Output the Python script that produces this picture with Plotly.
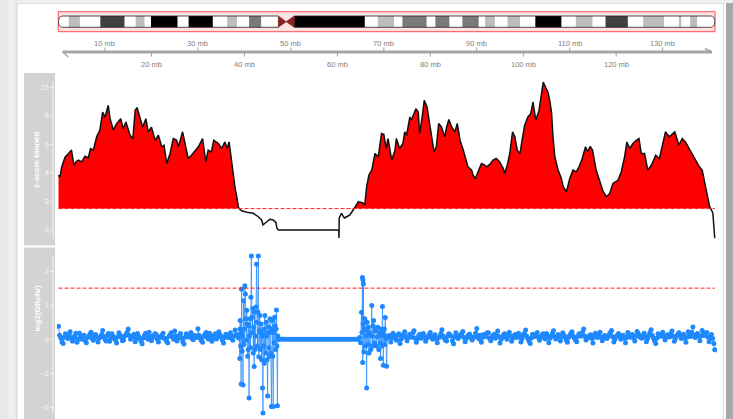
import numpy as np
import plotly.graph_objects as go

W, H = 733, 419

# ---- chromosome 9 cytobands (Mb) ----
BAND_START = [0.0, 2.2, 4.6, 9.0, 14.2, 16.6, 18.5, 19.9, 25.6, 28.0,
              33.2, 36.3, 38.4, 41.0, 43.6, 47.3, 49.0, 50.7, 65.9, 68.7,
              72.2, 74.0, 79.2, 81.1, 84.1, 86.9, 90.4, 91.8, 93.9, 96.6,
              99.3, 102.6, 108.2, 111.3, 114.9, 117.7, 122.5, 125.8, 130.3, 133.5,
              134.0, 135.9, 137.4]
CHROM_LEN = 141.213
BAND_END = BAND_START[1:] + [CHROM_LEN]
BAND_STAIN = ["gneg", "gpos25", "gneg", "gpos75", "gneg", "gpos25", "gneg", "gpos100", "gneg", "gpos100",
              "gneg", "gpos25", "gneg", "gpos50", "gneg", "acen", "acen", "gvar", "gneg", "gpos25",
              "gneg", "gpos50", "gneg", "gpos50", "gneg", "gpos50", "gneg", "gpos25", "gneg", "gpos25",
              "gneg", "gpos100", "gneg", "gpos25", "gneg", "gpos75", "gneg", "gpos25", "gneg", "gpos25",
              "gneg", "gpos25", "gneg"]
STAIN_COLOR = {"gneg": "#FFFFFF", "gpos25": "#BDBDBD", "gpos50": "#7A7A7A",
               "gpos75": "#404040", "gpos100": "#000000", "gvar": "#000000"}

AXIS_TICKS_MB = [10, 20, 30, 40, 50, 60, 70, 80, 90, 100, 110, 120, 130]

# ---- z-score binned track ----
THRESHOLD = 1.5
Z_POS = [0.0, 0.3, 0.7, 1.4, 2.0, 2.5, 2.8, 3.3, 3.8, 4.3, 5.0, 5.7, 6.4, 6.9, 7.5, 8.2, 8.9, 9.5,
         10.0, 10.7, 11.1, 11.8, 12.5, 13.4, 13.9, 14.5, 15.4, 16.0, 16.5, 16.9, 17.4, 18.1, 18.8, 19.3,
         20.0, 20.8, 21.5, 22.2, 22.7, 23.3, 24.0, 24.7, 25.4, 25.8, 26.7, 27.2, 27.9, 28.6, 29.4,
         30.1, 31.0, 31.7, 32.2, 32.9, 33.4, 34.4, 35.1, 35.8, 36.3, 36.7, 36.9, 37.5, 38.0, 38.3, 38.7,
         39.0, 39.4, 40.5, 41.2, 41.9, 43.0, 43.7, 44.0, 44.4, 44.8, 45.5, 46.2, 46.8, 47.0, 47.3,
         60.3, 60.35, 60.4, 60.9, 61.5, 62.0, 62.7, 63.4, 63.8, 64.5, 65.0, 65.5, 65.9, 66.3, 66.8,
         67.4, 68.1, 68.8, 69.5, 70.0, 70.5, 70.9, 71.7, 72.4, 72.7, 73.4, 74.1, 74.5, 74.9, 75.6,
         75.9, 76.3, 76.9, 77.4, 77.7, 78.3, 78.7, 79.3, 79.7, 80.3, 80.8, 81.3, 81.8, 82.4, 83.1,
         83.5, 84.0, 84.6, 85.3, 85.8, 86.4, 87.1, 87.4, 88.1, 88.9, 89.2, 89.7, 90.3, 91.0, 91.7,
         92.1, 92.8, 93.5, 94.2, 94.9, 95.7, 96.0, 96.6, 97.1, 97.7, 98.2, 98.7, 99.3, 99.8, 100.3,
         101.0, 101.6, 102.1, 102.7, 103.4, 104.3, 104.8, 105.3, 105.7, 106.1, 106.4, 106.8, 107.5,
         108.2, 108.6, 109.3, 110.0, 110.7, 111.4, 112.0, 112.7, 113.4, 113.9, 114.4, 114.9, 115.7,
         116.5, 117.2, 117.9, 118.6, 119.3, 120.4, 121.1, 121.8, 122.3, 122.9, 123.6, 124.3, 124.9,
         125.4, 126.1, 126.8, 127.6, 128.5, 129.3, 130.1, 130.6, 131.4, 131.9, 132.6, 133.5, 134.2,
         134.9, 135.7, 136.4, 137.2, 137.9, 138.5, 139.0, 139.5, 140.1, 140.5, 140.8, 141.2]
Z_VAL = [3.85, 3.7, 4.43, 5.1, 5.3, 5.48, 5.6, 4.55, 4.8, 4.9, 4.78, 5.17, 5.07, 5.71, 5.6, 6.53, 7.0, 8.27,
         7.9, 8.74, 7.8, 7.0, 7.46, 7.8, 7.1, 7.57, 6.64, 6.4, 8.39, 8.58, 8.04, 7.22, 7.8, 6.88,
         7.2, 6.29, 6.64, 5.83, 5.94, 4.66, 5.36, 6.41, 6.3, 5.83, 6.88, 6.17, 5.01, 5.24, 5.6,
         5.83, 6.41, 4.78, 5.6, 5.48, 6.29, 6.06, 5.71, 6.17, 5.71, 6.17, 5.71, 3.96, 2.92, 2.45, 1.6,
         1.45, 1.35, 1.24, 1.2, 1.17, 0.93, 0.70, 0.35, 0.5, 0.58, 0.75, 0.70, 0.51, 0.12, 0.0,
         0.0, -0.56, 0.84, 1.17, 0.84, 0.93, 1.05, 1.40, 1.63, 1.98, 1.95, 1.90, 1.75, 3.03, 3.85,
         4.2, 5.36, 5.13, 6.76, 6.7, 5.71, 6.41, 4.9, 5.59, 6.41, 5.71, 6.06, 6.88, 6.64, 7.92,
         7.69, 8.04, 8.5, 8.27, 6.76, 8.04, 9.09, 8.62, 7.69, 6.53, 5.48, 5.83, 7.46, 7.22, 6.53,
         7.2, 7.74, 7.22, 6.88, 7.46, 6.29, 5.59, 5.24, 4.43, 4.2, 3.85, 3.61, 4.08, 4.66, 4.55,
         4.43, 4.6, 4.9, 5.01, 4.78, 4.31, 3.96, 4.6, 5.36, 6.88, 6.53, 5.59, 5.36, 6.41, 7.34,
         7.92, 8.15, 8.97, 7.69, 8.4, 10.37, 10.0, 9.67, 9.09, 8.2, 6.53, 5.13, 4.2,
         3.61, 3.03, 2.68, 3.61, 4.2, 4.08, 4.43, 5.01, 5.83, 5.48, 5.86, 5.6, 4.2,
         3.38, 2.68, 2.33, 2.56, 3.26, 3.5, 4.08, 5.13, 6.17, 5.71, 6.06, 6.29, 6.41,
         5.36, 5.36, 4.2, 4.55, 5.24, 5.01, 6.06, 6.88, 6.53, 6.65, 6.88, 5.94, 6.41,
         6.17, 5.71, 5.36, 4.9, 4.43, 4.2, 3.38, 2.56, 1.63, 1.4, 1.17, -0.58]

# ---- log2(GRchr) track ----
GR_STEP = 0.25
GR_P_START = 0.0
GR_P_VAL = [0.38, 0.12, 0.04, -0.08, -0.12, 0.06, 0.16, 0.09, 0.02, 0.14, 0.22, 0.05, -0.06, 0.03, 0.10, 0.18, -0.09, 0.01, 0.18, 0.07,
            0.00, 0.09, 0.12, -0.04, -0.10, 0.05, 0.08, 0.15, 0.21, 0.02, -0.03, 0.11, 0.14, 0.06, -0.08, 0.04, 0.06, 0.13, 0.26, 0.08,
            0.01, -0.05, 0.11, 0.17, -0.06, 0.03, 0.16, 0.09, 0.04, -0.02, -0.11, 0.07, 0.19, 0.12, 0.07, -0.04, -0.02, 0.10, 0.13, 0.20,
            0.30, 0.11, 0.00, 0.06, 0.09, 0.15, -0.07, 0.02, 0.17, 0.08, 0.03, -0.05, -0.13, 0.04, 0.12, 0.18, 0.06, 0.00, 0.21, 0.09,
            -0.04, 0.05, 0.10, 0.16, 0.15, 0.01, -0.08, 0.07, 0.05, 0.12, 0.18, 0.03, 0.02, -0.06, -0.10, 0.08, 0.13, 0.19, 0.08, 0.00,
            0.24, 0.10, -0.05, 0.04, 0.11, 0.17, 0.04, -0.07, -0.14, 0.06, 0.16, 0.09, 0.07, 0.14, 0.20, 0.02, -0.01, 0.11, 0.09, 0.05,
            0.31, 0.12, 0.03, -0.04, -0.09, 0.08, 0.14, 0.20, 0.06, 0.01, 0.18, 0.10, -0.06, 0.04, 0.12, 0.16, 0.01, 0.07, 0.22, 0.13,
            0.08, -0.02, -0.11, 0.05, 0.15, 0.09, 0.05, 0.12, 0.19, 0.03, -0.03, 0.10, 0.27, 0.14, 0.10, 0.04]
GR_PERI1_POS = [38.9, 39.0, 39.05, 39.1, 39.2, 39.3, 39.35, 39.4, 39.5, 39.6, 39.7, 39.8, 39.9, 40.0,
                40.1, 40.2, 40.3, 40.4, 40.5, 40.6, 40.7, 40.8, 40.9, 41.0, 41.1, 41.2, 41.3, 41.4,
                41.5, 41.6, 41.7, 41.8, 41.9, 42.0, 42.1, 42.2, 42.3, 42.4, 42.5, 42.6, 42.7, 42.8,
                42.9, 43.0, 43.1, 43.2, 43.3, 43.4, 43.5, 43.6, 43.7, 43.8, 43.9, 44.0, 44.1, 44.2,
                44.3, 44.4, 44.5, 44.6, 44.7, 44.8, 44.9, 45.0, 45.1, 45.2, 45.3, 45.4, 45.5, 45.6,
                45.7, 45.8, 45.9, 46.0, 46.1, 46.2, 46.3, 46.4, 46.5, 46.6, 46.7, 46.8, 46.9, 47.0,
                47.1, 47.2, 47.3]
GR_PERI1_VAL = [0.15, -0.56, 0.30, 0.55, -0.20, -1.31, 0.20, 1.47, -0.35, 0.10, -1.34, 1.13, -0.15, 0.30,
                1.57, 1.33, 0.60, -0.03, 0.85, 0.45, -0.50, -0.30, 0.40, -1.72, 0.10, 0.60, -0.25, 1.23,
                2.44, 0.65, 0.20, 0.90, -0.40, 0.35, -0.80, 0.79, -0.30, 0.10, 0.95, 2.20, 0.50, -0.20,
                0.80, 2.44, -0.51, 0.25, 0.70, -0.30, 0.20, 0.45, -0.60, 0.10, -1.43, -2.16, -0.20, 0.30,
                -0.70, 0.70, 0.15, -0.40, 0.50, 0.10, -0.60, -1.66, 0.20, 0.36, -0.25, -0.50, 0.60, 0.20,
                -0.40, -1.97, 0.30, 0.55, -0.50, -1.97, 0.20, -0.10, 0.65, 0.40, -0.30, 0.30, 0.86, -0.20,
                -1.95, 0.10, 0.00]
GR_FLAT_START, GR_FLAT_STEP = 47.5, 0.5
GR_FLAT_VAL = [0.0, 0.0, 0.0, 0.0, 0.0, 0.0, 0.0, 0.0, 0.0, 0.0, 0.0, 0.0, 0.0, 0.0, 0.0, 0.0, 0.0, 0.0,
               0.0, 0.0, 0.0, 0.0, 0.0, 0.0, 0.0, 0.0, 0.0, 0.0, 0.0, 0.0, 0.0, 0.0, 0.0, 0.0, 0.0]
GR_PERI2_POS = [64.8, 65.0, 65.2, 65.3, 65.4, 65.45, 65.5, 65.55, 65.6, 65.7, 65.8, 65.9, 66.0, 66.1,
                66.2, 66.3, 66.4, 66.5, 66.6, 66.7, 66.8, 66.9, 67.0, 67.2, 67.4, 67.5, 67.6, 67.7,
                67.8, 67.9, 68.0, 68.1, 68.3, 68.4, 68.6, 68.7, 68.9, 69.0, 69.1, 69.2, 69.3, 69.4,
                69.5, 69.6, 69.7, 69.8, 69.9, 70.0, 70.1, 70.2, 70.3, 70.45, 70.6, 70.8]
GR_PERI2_VAL = [0.05, -0.10, 0.79, 0.20, 1.81, -0.68, 1.74, 0.45, 1.62, -0.37, 0.30, 0.60, -0.20, 0.30,
                0.10, -1.43, 0.50, 0.25, -0.15, 0.35, -0.40, 0.20, 0.15, -0.30, 0.99, 0.10, -0.20, 0.40,
                0.55, -0.15, -0.10, 0.25, 0.30, -0.20, 0.07, 0.35, -0.30, 0.15, 0.20, -0.10, -0.56, 0.30,
                0.10, -0.20, 0.96, 0.20, -0.76, 0.10, 0.30, -0.15, 0.64, 0.00, -0.79, 0.10]
GR_Q_START = 71.0
GR_Q_VAL = [0.05, 0.11, -0.08, 0.04, 0.18, 0.09, 0.02, -0.03, 0.12, 0.16, -0.12, 0.01, 0.09, 0.14, 0.22, 0.07, -0.04, 0.05, 0.14, 0.10,
            0.06, 0.19, 0.25, 0.03, -0.09, 0.02, 0.11, 0.15, 0.03, 0.08, 0.17, 0.06, -0.06, 0.04, 0.08, 0.13, 0.20, 0.05, 0.00, 0.09,
            0.13, 0.02, -0.10, 0.04, 0.07, 0.16, 0.28, 0.10, 0.04, -0.02, -0.05, 0.09, 0.16, 0.12, 0.10, -0.04, -0.13, 0.07, 0.19, 0.11,
            0.02, 0.08, 0.12, 0.17, 0.23, 0.05, -0.07, 0.03, 0.09, 0.13, 0.15, 0.04, -0.02, 0.06, 0.06, 0.18, 0.32, 0.09, 0.01, 0.12,
            -0.09, 0.05, 0.14, 0.11, 0.08, 0.19, 0.19, 0.02, -0.04, 0.07, 0.11, 0.15, 0.03, 0.10, 0.24, 0.08, -0.11, 0.00, 0.07, 0.13,
            0.16, 0.07, 0.00, 0.12, 0.21, 0.09, -0.06, 0.04, 0.10, 0.14, 0.05, 0.11, 0.18, 0.06, -0.08, 0.02, 0.13, 0.17, 0.27, 0.09,
            0.02, -0.06, -0.12, 0.04, 0.15, 0.10, 0.08, 0.14, 0.20, 0.06, -0.03, 0.05, 0.11, 0.16, 0.06, 0.01, 0.17, 0.09, -0.10, 0.03,
            0.09, 0.17, 0.25, 0.08, 0.01, 0.06, 0.14, 0.10, -0.05, 0.07, 0.19, 0.12, 0.07, -0.02, -0.09, 0.05, 0.12, 0.18, 0.22, 0.10,
            0.04, -0.02, -0.07, 0.08, 0.16, 0.12, 0.10, 0.21, 0.30, 0.09, -0.02, 0.03, 0.08, 0.11, 0.13, 0.02, -0.11, 0.06, 0.18, 0.14,
            0.05, 0.13, 0.21, 0.06, -0.04, 0.03, 0.11, 0.07, 0.02, 0.09, 0.15, 0.20, 0.26, 0.07, -0.08, 0.01, 0.09, 0.12, 0.17, 0.08,
            0.00, 0.06, 0.12, 0.03, -0.10, 0.05, 0.20, 0.14, 0.06, 0.10, 0.14, 0.04, -0.05, 0.09, 0.23, 0.16, 0.08, 0.05, 0.03, 0.11,
            0.18, 0.06, -0.07, 0.02, 0.11, 0.19, 0.28, 0.12, 0.04, -0.04, -0.12, 0.03, 0.16, 0.13, 0.09, 0.15, 0.21, 0.08, -0.02, 0.06,
            0.13, 0.10, 0.07, 0.16, 0.24, 0.09, -0.06, 0.02, 0.10, 0.15, 0.19, 0.11, 0.02, 0.08, 0.15, 0.03, -0.09, 0.07, 0.22, 0.14,
            0.08, 0.20, 0.36, 0.12, 0.05, 0.11, 0.17, 0.08, -0.04, 0.10, 0.26, 0.18, 0.11, 0.15, 0.20, 0.06, -0.07, 0.04, 0.14, 0.02,
            -0.12]
GR_END_POS, GR_END_VAL = [141.2], [-0.31]


def px(x):
    return x / W


def py(y):
    return 1 - y / H


# bin positions for the regular stretches
gr_p_pos = GR_P_START + GR_STEP * np.arange(len(GR_P_VAL))
gr_flat_pos = GR_FLAT_START + GR_FLAT_STEP * np.arange(len(GR_FLAT_VAL))
gr_q_pos = GR_Q_START + GR_STEP * np.arange(len(GR_Q_VAL))
gr_pos = np.concatenate([gr_p_pos, GR_PERI1_POS, gr_flat_pos, GR_PERI2_POS, gr_q_pos, GR_END_POS])
gr_val = np.concatenate([GR_P_VAL, GR_PERI1_VAL, GR_FLAT_VAL, GR_PERI2_VAL, GR_Q_VAL, GR_END_VAL])

# fill polygon for the part of the z-score curve above the threshold
zp, zv = np.array(Z_POS), np.array(Z_VAL)
fx, fy = [zp[0]], [max(zv[0], THRESHOLD)]
for i in range(1, len(zp)):
    a, b = zv[i - 1], zv[i]
    if (a - THRESHOLD) * (b - THRESHOLD) < 0:
        t = (THRESHOLD - a) / (b - a)
        fx.append(zp[i - 1] + t * (zp[i] - zp[i - 1]))
        fy.append(THRESHOLD)
    fx.append(zp[i])
    fy.append(max(b, THRESHOLD))
fx += [fx[-1], fx[0]]
fy += [THRESHOLD, THRESHOLD]

# ---- pixel geometry of the tracks ----
X_PX0, X_PX1 = 57, 717
MB_PER_PX = 1 / 4.6475
X_MB0 = 58.5
xr = [(X_PX0 - X_MB0) * MB_PER_PX, (X_PX1 - X_MB0) * MB_PER_PX]

T1_TOP, T1_BOT = 73, 246
Z0_PX, Z_SCALE = 230.0, 14.27
y1r = [(Z0_PX - T1_BOT) / Z_SCALE, (Z0_PX - T1_TOP) / Z_SCALE]

T2_TOP, T2_BOT = 248, 419
G0_PX, G_SCALE = 339.3, 34.1
y2r = [(G0_PX - T2_BOT) / G_SCALE, (G0_PX - T2_TOP) / G_SCALE]

fig = go.Figure()

fig.add_trace(go.Scatter(x=fx, y=fy, mode="lines", fill="toself", fillcolor="#FF0000",
                         line=dict(width=0), xaxis="x", yaxis="y", hoverinfo="skip"))
fig.add_trace(go.Scatter(x=Z_POS, y=Z_VAL, mode="lines", line=dict(color="#111111", width=1.5),
                         xaxis="x", yaxis="y", hoverinfo="skip"))
fig.add_trace(go.Scatter(x=gr_pos, y=gr_val, mode="lines",
                         line=dict(color="rgba(30,136,255,0.7)", width=1),
                         xaxis="x", yaxis="y2", hoverinfo="skip"))
fig.add_trace(go.Scatter(x=gr_pos, y=gr_val, mode="markers",
                         marker=dict(color="#1E88FF", size=5, line=dict(width=0)),
                         xaxis="x", yaxis="y2", hoverinfo="skip"))

shapes = []
# page surroundings
shapes += [
    dict(type="rect", xref="paper", yref="paper", x0=0, x1=px(17), y0=0, y1=1,
         fillcolor="#E8E8E8", line=dict(width=0), layer="below"),
    dict(type="rect", xref="paper", yref="paper", x0=px(8), x1=px(15), y0=0, y1=1,
         fillcolor="#EEEEEE", line=dict(width=0), layer="below"),
    dict(type="line", xref="paper", yref="paper", x0=px(17), x1=px(17), y0=0, y1=py(3),
         line=dict(color="#D4D4D4", width=1), layer="below"),
    dict(type="rect", xref="paper", yref="paper", x0=px(17), x1=1, y0=py(3), y1=1,
         fillcolor="#EFEFEF", line=dict(width=0), layer="below"),
    dict(type="line", xref="paper", yref="paper", x0=px(17), x1=px(724), y0=py(3.5), y1=py(3.5),
         line=dict(color="#DCDCDC", width=1), layer="below"),
    dict(type="line", xref="paper", yref="paper", x0=px(723.5), x1=px(723.5), y0=0, y1=py(3),
         line=dict(color="#DDDDDD", width=1), layer="below"),
    dict(type="rect", xref="paper", yref="paper", x0=px(726), x1=1, y0=0, y1=py(3),
         fillcolor="#A8A8A8", line=dict(width=0), layer="below"),
]
# track title panels
shapes += [
    dict(type="rect", xref="paper", yref="paper", x0=px(24), x1=px(55), y0=py(T1_BOT - 0.5), y1=py(T1_TOP),
         fillcolor="#D3D3D3", line=dict(width=0), layer="below"),
    dict(type="rect", xref="paper", yref="paper", x0=px(24), x1=px(55), y0=py(T2_BOT), y1=py(T2_TOP - 0.5),
         fillcolor="#D3D3D3", line=dict(width=0), layer="below"),
]
# data axis lines inside the title panels
shapes += [
    dict(type="line", xref="paper", yref="y", x0=px(53), x1=px(53), y0=min(Z_VAL), y1=max(Z_VAL),
         line=dict(color="#F4F4F4", width=1)),
    dict(type="line", xref="paper", yref="y2", x0=px(53), x1=px(53), y0=gr_val.min(), y1=gr_val.max(),
         line=dict(color="#F4F4F4", width=1)),
]
# threshold lines
shapes += [
    dict(type="line", xref="x", yref="y", x0=0, x1=CHROM_LEN, y0=THRESHOLD, y1=THRESHOLD,
         line=dict(color="#FF2020", width=1, dash="4px,2px")),
    dict(type="line", xref="x", yref="y2", x0=0, x1=CHROM_LEN, y0=THRESHOLD, y1=THRESHOLD,
         line=dict(color="#FF2020", width=1, dash="4px,2px")),
]

# ideogram
BOX_T, BOX_B = py(11.7), py(31.7)
CH_T, CH_B = py(16.0), py(27.3)
CH_M = (CH_T + CH_B) / 2
shapes.append(dict(type="rect", xref="x", yref="paper", x0=-0.05, x1=CHROM_LEN + 0.05, y0=BOX_B, y1=BOX_T,
                   fillcolor="#FFE2E2", line=dict(color="#FF5050", width=1)))
acen = [i for i, s in enumerate(BAND_STAIN) if s == "acen"]
p_end = BAND_START[acen[0]]
cen = BAND_END[acen[0]]
q_start = BAND_END[acen[-1]]
r = 0.9

p_arm = f"M {p_end},{CH_T} L {r},{CH_T} Q 0,{CH_T} 0,{CH_M} Q 0,{CH_B} {r},{CH_B} L {p_end},{CH_B}"
q_arm = (f"M {q_start},{CH_T} L {CHROM_LEN - r},{CH_T} Q {CHROM_LEN},{CH_T} {CHROM_LEN},{CH_M} "
         f"Q {CHROM_LEN},{CH_B} {CHROM_LEN - r},{CH_B} L {q_start},{CH_B}")
for path in (p_arm, q_arm):
    shapes.append(dict(type="path", xref="x", yref="paper", path=path + " Z",
                       fillcolor="#FFFFFF", line=dict(width=0)))
for s0, s1, st in zip(BAND_START, BAND_END, BAND_STAIN):
    if st in ("gneg", "acen"):
        continue
    shapes.append(dict(type="rect", xref="x", yref="paper", x0=s0, x1=s1, y0=CH_B, y1=CH_T,
                       fillcolor=STAIN_COLOR[st], line=dict(width=0)))
for path in (p_arm, q_arm):
    shapes.append(dict(type="path", xref="x", yref="paper", path=path,
                       line=dict(color="#222222", width=0.8)))
bow = (f"M {p_end},{CH_T} L {cen},{CH_M} L {p_end},{CH_B} Z "
       f"M {q_start},{CH_T} L {cen},{CH_M} L {q_start},{CH_B} Z")
shapes.append(dict(type="path", xref="x", yref="paper", path=bow,
                   fillcolor="#8B2323", line=dict(color="#7A1E1E", width=0.6)))

# genome axis
AX_Y = py(52)
shapes.append(dict(type="line", xref="x", yref="paper", x0=0.9, x1=CHROM_LEN - 0.6, y0=AX_Y, y1=AX_Y,
                   line=dict(color="#A6A6A6", width=3)))
shapes.append(dict(type="line", xref="x", yref="paper", x0=0.9, x1=2.1, y0=AX_Y, y1=py(57),
                   line=dict(color="#A6A6A6", width=1.5)))
shapes.append(dict(type="line", xref="x", yref="paper", x0=CHROM_LEN - 0.6, x1=CHROM_LEN - 2.1,
                   y0=AX_Y, y1=py(48.5), line=dict(color="#A6A6A6", width=1.5)))
annotations = []
for k, t in enumerate(AXIS_TICKS_MB):
    up = (k % 2 == 0)
    shapes.append(dict(type="line", xref="x", yref="paper", x0=t, x1=t,
                       y0=AX_Y, y1=py(47.5) if up else py(56.5),
                       line=dict(color="#A0A0A0", width=1)))
    annotations.append(dict(x=t, y=py(43) if up else py(64), xref="x", yref="paper",
                            text=f"{t} mb", showarrow=False, xanchor="center", yanchor="middle",
                            font=dict(family="Liberation Sans, Arial", size=7.5, color="#808080")))

# track titles
annotations.append(dict(x=px(30), y=py((T1_TOP + T1_BOT) / 2), xref="paper", yref="paper",
                        text="<b>z-score binned</b>", textangle=-90, showarrow=False,
                        font=dict(family="Liberation Sans, Arial", size=8, color="#FFFFFF")))
annotations.append(dict(x=px(30), y=py((T2_TOP + T2_BOT) / 2), xref="paper", yref="paper",
                        text="<b>log2(GRchr)</b>", textangle=-90, showarrow=False,
                        font=dict(family="Liberation Sans, Arial", size=8, color="#FFFFFF")))

axis_font = dict(family="Liberation Sans, Arial", size=7, color="#F8F8F8")
fig.update_layout(
    width=W, height=H, margin=dict(l=0, r=0, t=0, b=0),
    paper_bgcolor="#FFFFFF", plot_bgcolor="rgba(0,0,0,0)", showlegend=False,
    xaxis=dict(domain=[px(X_PX0), px(X_PX1)], range=xr, visible=False, fixedrange=True),
    yaxis=dict(domain=[py(T1_BOT), py(T1_TOP)], range=y1r, anchor="free", position=px(53),
               tickvals=[0, 2, 4, 6, 8, 10], ticks="outside", ticklen=3, tickcolor="#F4F4F4",
               tickfont=axis_font, showgrid=False, zeroline=False, showline=False),
    yaxis2=dict(domain=[py(T2_BOT), py(T2_TOP)], range=y2r, anchor="free", position=px(53),
                tickvals=[-2, -1, 0, 1, 2], ticks="outside", ticklen=3, tickcolor="#F4F4F4",
                tickfont=axis_font, showgrid=False, zeroline=False, showline=False),
    shapes=shapes, annotations=annotations,
)

fig.write_html("out.html")
